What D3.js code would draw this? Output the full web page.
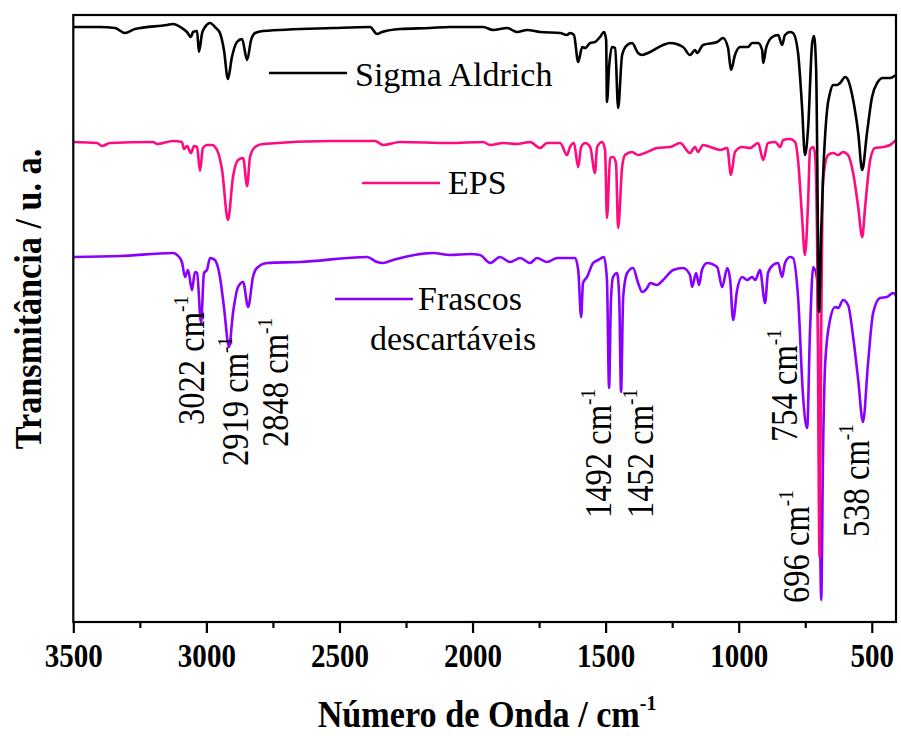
<!DOCTYPE html>
<html><head><meta charset="utf-8">
<script src="https://cdn.jsdelivr.net/npm/d3@7"></script>
<style>body{margin:0;background:#fff}svg{display:block}</style>
</head><body>
<svg id="chart" width="901" height="736"></svg>
<script>
// ---- data (wavenumber cm-1, transmittance a.u.) ----
const sigmaWn = [3500,3400,3343,3306,3268,3148,3125,3092,3073,3058,3050,3035,3028,3016,3005,2986,2968,2949,2934,2919,2904,2885,2866,2847,2832,2817,2787,2524,2385,2359,2340,2272,2160,2085,1960,1923,1870,1833,1795,1746,1671,1645,1634,1619,1603,1588,1577,1558,1540,1521,1506,1498,1495,1487,1476,1464,1453,1438,1419,1401,1378,1363,1333,1284,1258,1209,1183,1164,1156,1134,1081,1059,1040,1029,1014,995,965,950,927,912,908,897,874,852,837,826,807,796,777,762,751,739,724,717,709,698,690,683,668,657,645,630,619,600,589,570,551,536,518,499,480,458,431,409];
const sigmaT  = [595,595,594,589,593,597,598,594,590,585,590,591,570,589,595,599,595,589,572,543,565,580,583,562,582,589,591,594,595,588,590,593,594,595,595,592,594,590,592,590,589,587,589,587,560,575,574,579,580,585,590,582,520,555,575,574,514,567,577,579,569,567,570,577,579,575,567,572,569,577,580,584,574,552,567,575,575,579,579,572,559,574,585,587,577,587,590,589,569,515,467,495,579,586,552,310,392,445,512,529,537,537,539,545,542,522,489,452,489,525,539,544,544,547];

const epsWn = [3500,3411,3392,3362,3200,3185,3125,3092,3084,3073,3058,3046,3035,3024,3013,2998,2979,2960,2941,2919,2900,2881,2862,2847,2836,2817,2787,2535,2366,2336,2272,2085,1960,1934,1885,1833,1784,1746,1720,1671,1645,1634,1619,1603,1592,1577,1558,1540,1532,1513,1502,1495,1483,1472,1461,1453,1438,1427,1401,1378,1344,1307,1258,1220,1183,1164,1153,1134,1096,1070,1043,1029,1014,987,957,927,908,890,863,844,833,807,788,777,762,751,739,732,720,713,705,696,690,683,664,645,626,608,589,570,551,536,525,506,488,458,431,409];
const epsT  = [480,479,476,479,480,478,481,480,473,476,469,476,475,451,474,477,477,472,452,402,445,462,464,436,465,475,478,481,481,477,480,479,480,477,479,478,480,474,479,479,467,475,479,455,475,479,475,449,475,480,472,404,464,465,459,394,455,467,470,467,470,474,475,479,469,475,470,477,474,472,474,447,470,475,474,479,462,479,480,475,482,483,480,462,405,367,422,472,475,467,372,65,292,442,467,469,467,470,467,449,415,385,415,462,474,475,477,482];

const frascosWn = [3500,3324,3125,3110,3092,3080,3069,3054,3043,3035,3020,3009,2998,2986,2968,2949,2934,2915,2900,2881,2862,2843,2825,2810,2772,2648,2396,2359,2336,2299,2148,2085,2009,1972,1934,1897,1859,1821,1784,1758,1720,1682,1615,1603,1592,1585,1570,1547,1528,1506,1495,1487,1480,1472,1457,1449,1442,1434,1419,1397,1378,1363,1344,1333,1307,1284,1246,1209,1183,1175,1160,1149,1138,1119,1081,1062,1043,1032,1021,1006,987,968,950,938,920,901,890,871,852,837,826,807,796,777,758,743,732,720,705,698,690,683,675,657,638,626,608,589,570,551,533,514,495,469,443,420,409];
const frascosT  = [365,366,369,367,360,345,352,332,350,349,299,349,352,364,362,345,315,275,309,335,340,315,345,354,359,360,365,360,359,362,369,367,368,367,359,365,360,364,359,364,360,364,364,352,305,339,345,359,362,365,342,234,322,345,349,325,230,325,349,354,339,330,334,339,337,342,352,354,347,335,349,337,352,359,355,335,354,342,302,332,345,342,345,342,352,319,349,357,359,345,359,365,364,325,225,194,292,355,342,202,22,172,259,302,315,314,322,317,285,242,200,259,309,324,325,329,327];

const seriesNames = ["Sigma Aldrich", "EPS", "Frascos descartáveis"];
const majorTicks = [3500,3000,2500,2000,1500,1000,500];
const minorTicks = [3250,2750,2250,1750,1250,750];
const peakLabels = ["3022","2919","2848","1492","1452","754","696","538"];

// ---- layout ----
const svg = d3.select("#chart");
const L = 73.3, R = 896, T = 15, B = 622;
const serif = "'Liberation Serif','Times New Roman',Times,serif";

const x = d3.scaleLinear().domain([3500, 409]).range([L, R]);
const y = d3.scaleLinear().domain([0, 607]).range([B, T]);

svg.append("defs").append("clipPath").attr("id","clip")
  .append("rect").attr("x",L).attr("y",T).attr("width",R-L).attr("height",B-T);

const colors = ["#000000", "#ff0a80", "#8a00ff"];
const data = [
  sigmaWn.map((w,i)=>[w, sigmaT[i]]),
  epsWn.map((w,i)=>[w, epsT[i]]),
  frascosWn.map((w,i)=>[w, frascosT[i]])
];
const line = d3.line().x(d=>x(d[0])).y(d=>y(d[1])).curve(d3.curveMonotoneX);

const gLines = svg.append("g").attr("clip-path","url(#clip)");
[2,1,0].forEach(i=>{
  gLines.append("path").datum(data[i]).attr("d", line)
    .attr("fill","none").attr("stroke", colors[i]).attr("stroke-width",2.6)
    .attr("stroke-linejoin","round");
});

// frame
svg.append("rect").attr("x",L).attr("y",T).attr("width",R-L).attr("height",B-T)
  .attr("fill","none").attr("stroke","#000").attr("stroke-width",2.2);

// x axis
const axMajor = svg.append("g").attr("transform",`translate(0,${B})`)
  .call(d3.axisBottom(x).tickValues(majorTicks).tickSize(11).tickSizeOuter(0).tickFormat(d3.format("d")));
const axMinor = svg.append("g").attr("transform",`translate(0,${B})`)
  .call(d3.axisBottom(x).tickValues(minorTicks).tickSize(6).tickSizeOuter(0).tickFormat(""));
[axMajor, axMinor].forEach(a=>{
  a.select(".domain").remove();
  a.selectAll(".tick line").attr("stroke","#000").attr("stroke-width",2.2);
});
axMajor.selectAll(".tick text").attr("y",0).attr("dy",0)
  .attr("transform","translate(0,45) scale(0.88,1)")
  .attr("font-family",serif).attr("font-weight","bold").attr("font-size",33).attr("fill","#000");

// axis titles
const xt = svg.append("text").attr("transform","translate(487,727) scale(0.9,1)").attr("text-anchor","middle")
  .attr("font-family",serif).attr("font-weight","bold").attr("font-size",38);
xt.append("tspan").text("Número de Onda / cm");
xt.append("tspan").attr("font-size",22).attr("dy",-17).text("-1");

svg.append("text").attr("transform","translate(41,299) rotate(-90) scale(0.9,1)").attr("text-anchor","middle")
  .attr("font-family",serif).attr("font-weight","bold").attr("font-size",38)
  .text("Transmitância / u. a.");

// legend
const legend = [
  {x1:269, x2:347, y:73, tx:355, ty:86, lines:[seriesNames[0]]},
  {x1:362, x2:440, y:183, tx:448, ty:194, lines:[seriesNames[1]]},
  {x1:335, x2:413, y:299, tx:418, ty:310, lines:["Frascos","descartáveis"]}
];
legend.forEach((g,i)=>{
  svg.append("line").attr("x1",g.x1).attr("x2",g.x2).attr("y1",g.y).attr("y2",g.y)
    .attr("stroke",colors[i]).attr("stroke-width",2.6);
  svg.append("text").attr("x",g.tx).attr("y",g.ty)
    .attr("font-family",serif).attr("font-size",34).attr("fill","#000").text(g.lines[0]);
  if (g.lines[1]) {
    svg.append("text").attr("x",370).attr("y",350)
      .attr("font-family",serif).attr("font-size",34).attr("fill","#000").text(g.lines[1]);
  }
});

// peak annotations (rotated)
const peakPos = [[204,425],[248,466],[288,447],[611,518],[653,518],[797,442],[809,603],[869,537]];
peakLabels.forEach((p,i)=>{
  const t = svg.append("text")
    .attr("transform",`translate(${peakPos[i][0]},${peakPos[i][1]}) rotate(-90) scale(0.88,1)`)
    .attr("font-family",serif).attr("font-size",37).attr("fill","#000");
  t.append("tspan").text(p + " cm");
  t.append("tspan").attr("font-size",22).attr("dy",-16).text("-1");
});
</script>
</body></html>
